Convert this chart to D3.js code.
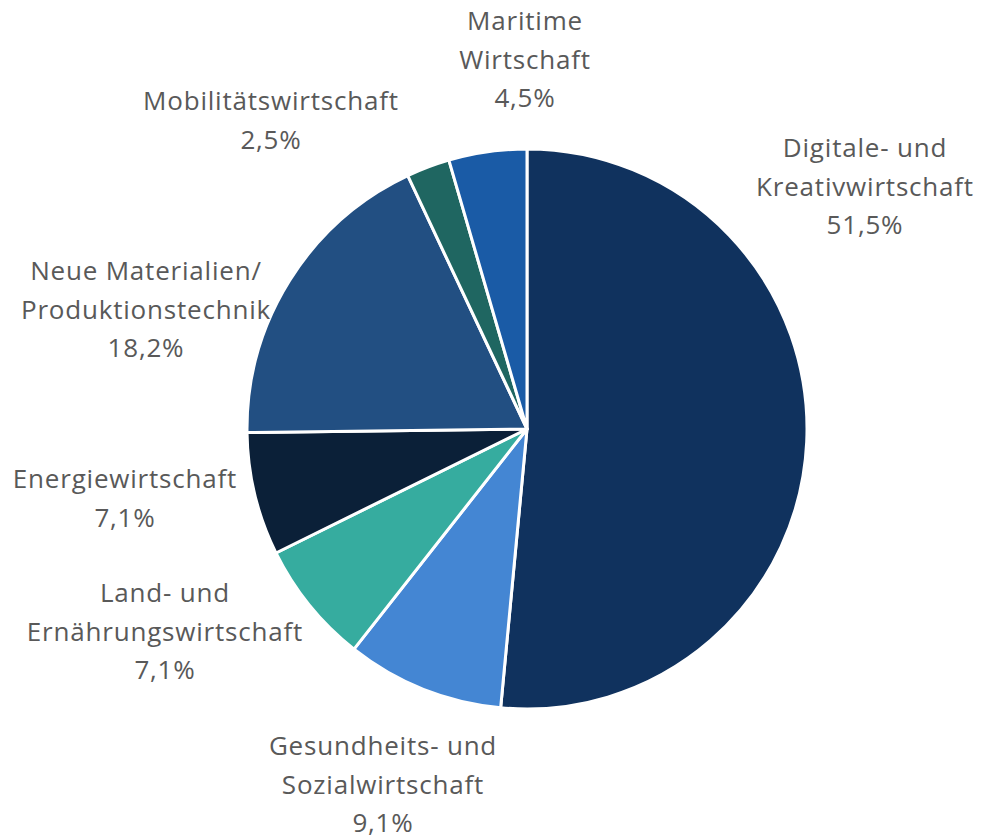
<!DOCTYPE html>
<html lang="de">
<head>
<meta charset="utf-8">
<title>Branchenverteilung</title>
<script src="https://cdn.jsdelivr.net/npm/d3@7"></script>
<style>
  body { margin: 0; background: #fff; }
  text { font-family: "Open Sans", Lato, sans-serif; fill: #595959; }
</style>
</head>
<body>
<div id="chart"></div>
<script>
// data, clockwise from 12 o'clock
var categories = [
  ["Digitale- und", "Kreativwirtschaft"],
  ["Gesundheits- und", "Sozialwirtschaft"],
  ["Land- und", "Ernährungswirtschaft"],
  ["Energiewirtschaft"],
  ["Neue Materialien/", "Produktionstechnik"],
  ["Mobilitätswirtschaft"],
  ["Maritime", "Wirtschaft"]
];
var values = [51.5, 9.1, 7.1, 7.1, 18.2, 2.5, 4.5];
var colors = ["#10325e", "#4486d3", "#36ac9f", "#0b2038", "#224f82", "#1f6661", "#1a5ba6"];

// where Excel put the data labels (centre x, y of first line)
var labelPos = [[865, 147], [383, 745], [165, 592], [125, 478], [146, 270], [271, 100], [525, 20]];

var w = 981, h = 839;
var cx = 527, cy = 429, r = 280;
var lineH = 38.5;

var svg = d3.select("#chart").append("svg")
  .attr("width", w)
  .attr("height", h);

var pie = d3.pie().sort(null).value(function(d) { return d; });
var arc = d3.arc().innerRadius(0).outerRadius(r);

var g = svg.append("g").attr("transform", "translate(" + cx + "," + cy + ")");

g.selectAll("path")
  .data(pie(values))
  .enter()
  .append("path")
  .attr("d", arc)
  .attr("fill", function(d, i) { return colors[i]; })
  .attr("stroke", "#fff")
  .attr("stroke-width", 3)
  .attr("stroke-linejoin", "round");

var fmt = function(v) { return v.toFixed(1).replace(".", ",") + "%"; };

var labels = svg.selectAll("text.lbl")
  .data(values)
  .enter()
  .append("text")
  .attr("class", "lbl")
  .attr("text-anchor", "middle")
  .attr("font-size", 26)
  .attr("letter-spacing", 0.8)
  .attr("dominant-baseline", "central");

labels.each(function(v, i) {
  var lines = categories[i].concat([fmt(v)]);
  var t = d3.select(this);
  lines.forEach(function(s, k) {
    t.append("tspan")
      .attr("x", labelPos[i][0])
      .attr("y", labelPos[i][1] + k * lineH)
      .text(s);
  });
});
</script>
</body>
</html>
